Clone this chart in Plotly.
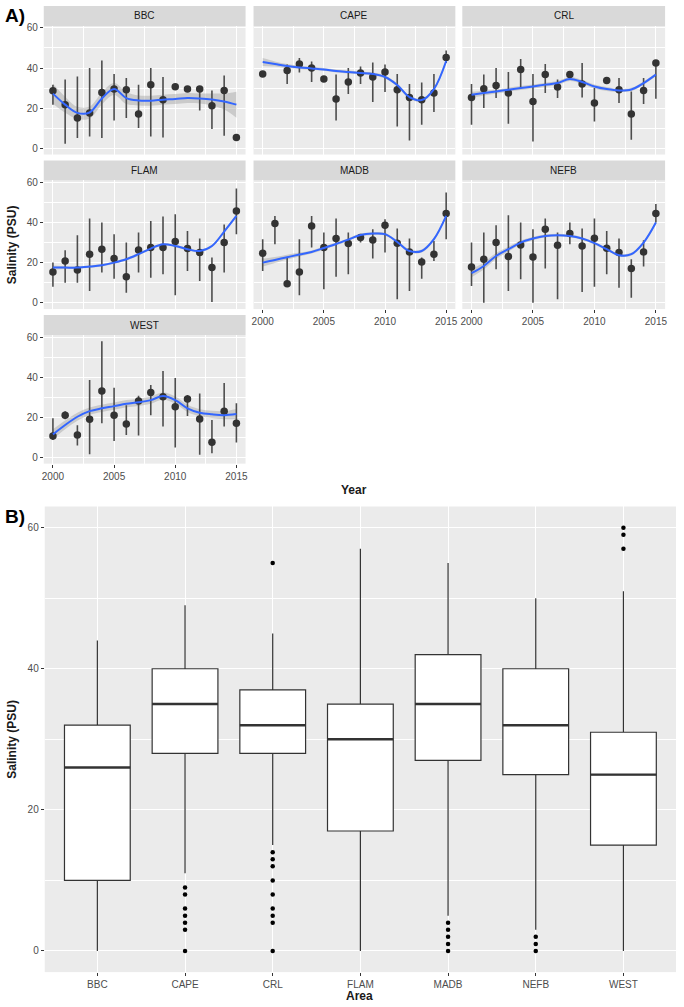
import plotly.graph_objects as go

# ---------------- DATA ----------------
years = list(range(2000, 2016))
areas = ["BBC", "CAPE", "CRL", "FLAM", "MADB", "NEFB", "WEST"]

bbc_mean = [28.7, 21.7, 15.0, 17.5, 27.8, 29.5, 29.2, 17.0, 31.7, 24.2, 30.7, 29.5, 29.5, 21.2, 28.8, 5.3]
bbc_lo = [21.7, 2.2, 5.0, 5.8, 5.0, 13.8, 15.0, 10.0, 5.8, 5.3, 30.2, 29.0, 18.8, 9.5, 6.2, 5.3]
bbc_hi = [31.7, 34.2, 35.8, 40.0, 43.8, 37.0, 35.0, 31.7, 40.0, 35.5, 31.2, 30.0, 30.8, 28.8, 36.2, 5.3]
bbc_fit = [27.2, 21.7, 17.6, 17.8, 24.8, 29.5, 25.0, 23.8, 23.7, 24.2, 24.5, 25.0, 24.8, 24.3, 23.3, 21.7]
bbc_se = [5.0, 4.0, 3.0, 3.0, 3.0, 3.0, 3.0, 2.5, 2.5, 2.5, 2.5, 2.5, 2.5, 3.0, 4.0, 6.5]

cape_mean = [37.0, None, 38.7, 42.0, 40.0, 34.5, 24.5, 33.0, 37.5, 35.5, 38.0, 29.2, 25.3, 24.2, 27.5, 45.3]
cape_lo = [37.0, None, 32.0, 37.8, 33.0, 34.5, 13.8, 27.0, 32.0, 23.0, 28.0, 10.8, 3.8, 11.7, 18.0, 42.5]
cape_hi = [37.0, None, 41.7, 45.0, 43.3, 34.5, 36.7, 40.0, 40.8, 42.8, 41.7, 37.0, 32.0, 32.8, 37.0, 48.7]
cape_fit = [43.0, 42.0, 41.0, 40.3, 39.8, 39.3, 38.5, 38.0, 37.5, 37.0, 35.5, 31.5, 25.5, 24.0, 29.5, 43.5]
cape_se = [2.0, 1.3, 1.0, 0.8, 0.7, 0.7, 0.7, 0.7, 0.7, 0.7, 0.7, 0.8, 0.8, 0.8, 0.8, 1.0]

crl_mean = [25.3, 29.7, 31.3, 27.5, 39.2, 23.3, 36.7, 30.5, 36.7, 32.0, 22.5, 33.7, 29.2, 17.0, 28.8, 42.5]
crl_lo = [11.7, 20.0, 25.0, 12.2, 30.0, 3.3, 27.5, 25.0, 35.0, 25.3, 13.3, 33.2, 22.5, 4.2, 22.0, 24.7]
crl_hi = [32.0, 36.7, 40.0, 38.0, 44.5, 37.0, 42.0, 34.2, 38.3, 42.5, 30.0, 34.2, 35.0, 28.3, 35.0, 42.5]
crl_fit = [26.7, 27.5, 28.3, 29.2, 30.0, 30.8, 31.7, 32.5, 34.5, 33.0, 30.8, 29.5, 28.8, 29.3, 32.5, 36.7]
crl_se = [1.5, 1.2, 1.0, 1.0, 1.0, 1.0, 1.0, 1.0, 1.0, 1.0, 1.0, 1.0, 0.8, 0.8, 0.8, 0.8]

flam_mean = [15.3, 20.8, 16.3, 24.2, 26.7, 22.0, 13.0, 26.3, 27.5, 27.5, 30.5, 27.0, 25.0, 17.5, 30.0, 45.8]
flam_lo = [8.0, 10.0, 10.0, 5.8, 15.0, 12.0, 5.0, 15.0, 12.5, 14.2, 3.7, 15.8, 10.8, 0.3, 15.0, 34.2]
flam_hi = [20.0, 26.2, 33.7, 42.0, 40.0, 34.2, 30.0, 35.0, 40.8, 43.0, 44.2, 35.8, 32.0, 22.5, 39.0, 57.0]
flam_fit = [17.5, 17.5, 17.5, 18.0, 18.7, 20.0, 21.7, 24.2, 27.0, 29.2, 28.3, 26.7, 25.8, 28.3, 35.5, 43.3]
flam_se = [1.0, 0.7, 0.6, 0.6, 0.6, 0.6, 0.6, 0.6, 0.6, 0.6, 0.6, 0.6, 0.6, 0.6, 0.6, 0.8]

madb_mean = [24.7, 39.5, 9.5, 15.3, 38.3, 27.5, 32.0, 29.5, 32.5, 31.3, 38.7, 29.7, 25.3, 20.3, 24.2, 44.5]
madb_lo = [15.8, 29.2, 9.5, 3.7, 27.5, 6.7, 13.0, 14.2, 30.0, 22.0, 25.0, 1.7, 5.8, 12.0, 20.8, 31.7]
madb_hi = [31.7, 43.3, 22.5, 31.7, 43.3, 35.0, 42.0, 35.0, 34.2, 36.7, 41.7, 37.0, 32.0, 22.5, 30.8, 55.0]
madb_fit = [20.0, 21.3, 22.7, 24.0, 25.3, 27.3, 29.3, 31.5, 33.8, 34.5, 34.2, 30.3, 25.8, 25.8, 31.7, 43.3]
madb_se = [2.0, 1.5, 1.2, 1.0, 0.8, 0.7, 0.7, 0.7, 0.7, 0.7, 0.7, 0.7, 0.8, 0.8, 0.8, 1.0]

nefb_mean = [17.8, 21.7, 30.0, 23.0, 28.8, 22.8, 36.7, 28.7, 34.5, 28.3, 32.2, 27.2, 25.0, 17.0, 25.3, 44.5]
nefb_lo = [8.3, 0.0, 16.7, 5.8, 11.7, 0.0, 17.0, 1.7, 29.2, 5.3, 8.0, 14.2, 7.5, 2.5, 18.0, 40.0]
nefb_hi = [30.0, 35.0, 38.7, 43.7, 40.0, 36.7, 42.0, 35.0, 40.0, 37.0, 42.0, 35.8, 32.0, 21.7, 31.2, 49.2]
nefb_fit = [14.7, 18.3, 23.3, 26.7, 30.0, 32.0, 33.3, 33.7, 33.3, 32.0, 29.7, 26.7, 23.7, 24.2, 30.0, 40.0]
nefb_se = [2.0, 1.8, 1.5, 1.2, 1.0, 0.8, 0.7, 0.7, 0.7, 0.7, 0.7, 0.7, 0.7, 0.7, 0.7, 0.8]

west_mean = [10.6, 21.0, 11.1, 18.9, 33.0, 21.0, 16.6, 28.0, 32.3, 30.2, 25.2, 29.0, 19.1, 7.5, 23.0, 17.0]
west_lo = [8.6, 19.0, 5.8, 1.5, 16.9, 8.1, 11.1, 10.8, 21.0, 15.3, 4.8, 20.6, 1.2, 2.0, 15.3, 7.3]
west_hi = [19.4, 23.0, 16.0, 38.5, 57.9, 34.7, 26.0, 30.7, 36.0, 43.0, 39.6, 31.0, 31.8, 18.6, 37.1, 26.9]
west_fit = [11.4, 16.1, 20.2, 23.0, 24.4, 25.5, 26.7, 27.4, 28.5, 30.5, 28.5, 24.4, 22.2, 21.4, 21.0, 21.6]
west_se = [2.5, 2.2, 2.0, 1.8, 1.8, 1.8, 1.8, 1.8, 1.8, 1.8, 1.8, 1.8, 1.8, 1.8, 2.0, 2.5]

# Panel B box statistics
box_lowerfence = [0, 11, 15, 0, 5, 3, 0]
box_q1 = [10, 28, 28, 17, 27, 25, 15]
box_median = [26, 35, 32, 30, 35, 32, 25]
box_q3 = [32, 40, 37, 35, 42, 40, 31]
box_upperfence = [44, 49, 45, 57, 55, 50, 51]
out_bbc = []
out_cape = [9, 8, 6, 5, 4, 3, 0]
out_crl = [55, 14, 13, 12, 10, 8, 6, 5, 4, 0]
out_flam = []
out_madb = [4, 3, 2, 1, 0]
out_nefb = [2, 1, 0]
out_west = [60, 59, 57]

# ---------------- LAYOUT HELPERS ----------------
W, H = 684, 1007
def fx(p): return p / W
def fy(p): return 1 - p / H

col_px = [(42, 245), (253, 456), (463, 667)]
row_px = [(23, 152), (178, 307), (333, 462)]
STRIP = 20

facets = [
    ("BBC", 0, 0, bbc_mean, bbc_lo, bbc_hi, bbc_fit, bbc_se),
    ("CAPE", 0, 1, cape_mean, cape_lo, cape_hi, cape_fit, cape_se),
    ("CRL", 0, 2, crl_mean, crl_lo, crl_hi, crl_fit, crl_se),
    ("FLAM", 1, 0, flam_mean, flam_lo, flam_hi, flam_fit, flam_se),
    ("MADB", 1, 1, madb_mean, madb_lo, madb_hi, madb_fit, madb_se),
    ("NEFB", 1, 2, nefb_mean, nefb_lo, nefb_hi, nefb_fit, nefb_se),
    ("WEST", 2, 0, west_mean, west_lo, west_hi, west_fit, west_se),
]
bottom_of_col = {0: "WEST", 1: "MADB", 2: "NEFB"}

FONT = "Liberation Sans, Arial, sans-serif"
TICKFONT = dict(family=FONT, size=10, color="#4D4D4D")
GRID = "white"

fig = go.Figure()
layout = dict(
    width=W, height=H,
    margin=dict(l=0, r=0, t=0, b=0),
    paper_bgcolor="white", plot_bgcolor="#EBEBEB",
    showlegend=False,
    shapes=[], annotations=[],
)

for k, (name, r, c, mean, lo, hi, fit, se) in enumerate(facets):
    n = k + 1
    xa, ya = f"x{n}", f"y{n}"
    xl, yl = f"xaxis{n}", f"yaxis{n}"
    x0, x1 = col_px[c]
    y0, y1 = row_px[r]
    show_x = bottom_of_col[c] == name
    show_y = c == 0
    layout[xl] = dict(
        domain=[fx(x0), fx(x1)], anchor=ya, range=[1999.25, 2015.75],
        tickmode="linear", tick0=2000, dtick=5,
        showgrid=True, gridcolor=GRID, gridwidth=1.1, zeroline=False,
        minor=dict(tickmode="linear", tick0=2000, dtick=2.5, showgrid=True, gridcolor=GRID, gridwidth=0.5),
        showticklabels=show_x, ticks="outside" if show_x else "", ticklen=3, tickcolor="#333333",
        tickfont=TICKFONT, showline=False,
    )
    layout[yl] = dict(
        domain=[fy(y1), fy(y0)], anchor=xa, range=[-3.2, 61],
        tickmode="linear", tick0=0, dtick=20,
        showgrid=True, gridcolor=GRID, gridwidth=1.1, zeroline=False,
        minor=dict(tickmode="linear", tick0=0, dtick=10, showgrid=True, gridcolor=GRID, gridwidth=0.5),
        showticklabels=show_y, ticks="outside" if show_y else "", ticklen=3, tickcolor="#333333",
        tickfont=TICKFONT, showline=False,
    )
    # strip
    layout["shapes"].append(dict(type="rect", xref="paper", yref="paper",
                                 x0=fx(x0), x1=fx(x1), y0=fy(y0), y1=fy(y0 - STRIP),
                                 fillcolor="#D9D9D9", line=dict(width=0), layer="below"))
    layout["annotations"].append(dict(xref="paper", yref="paper", x=fx((x0 + x1) / 2), y=fy(y0 - STRIP / 2),
                                      text=name, showarrow=False, xanchor="center", yanchor="middle",
                                      font=dict(family=FONT, size=10, color="#1A1A1A")))
    # ribbon
    lower = [f - s for f, s in zip(fit, se)]
    upper = [f + s for f, s in zip(fit, se)]
    fig.add_trace(go.Scatter(x=years, y=lower, mode="lines", line=dict(width=0, shape="spline"),
                             xaxis=xa, yaxis=ya, hoverinfo="skip"))
    fig.add_trace(go.Scatter(x=years, y=upper, mode="lines", line=dict(width=0, shape="spline"),
                             fill="tonexty", fillcolor="rgba(153,153,153,0.4)",
                             xaxis=xa, yaxis=ya, hoverinfo="skip"))
    # point ranges
    plus = [(h - m) if m is not None else 0 for m, h in zip(mean, hi)]
    minus = [(m - l) if m is not None else 0 for m, l in zip(mean, lo)]
    fig.add_trace(go.Scatter(
        x=years, y=mean, mode="markers",
        marker=dict(size=7.5, color="#333333"),
        error_y=dict(type="data", symmetric=False, array=plus, arrayminus=minus,
                     width=0, thickness=1.6, color="#4D4D4D"),
        xaxis=xa, yaxis=ya))
    # smooth
    fig.add_trace(go.Scatter(x=years, y=fit, mode="lines",
                             line=dict(color="#3366FF", width=2, shape="spline", smoothing=1.0),
                             xaxis=xa, yaxis=ya))

# ---------------- PANEL B ----------------
nB = len(facets) + 1
xaB, yaB = f"x{nB}", f"y{nB}"
xpos = list(range(len(areas)))
layout[f"xaxis{nB}"] = dict(
    domain=[fx(43), fx(678)], anchor=yaB, range=[-0.6, len(areas) - 0.4],
    tickmode="array", tickvals=xpos, ticktext=areas,
    showgrid=True, gridcolor=GRID, gridwidth=1.1, zeroline=False,
    ticks="outside", ticklen=3, tickcolor="#333333", tickfont=TICKFONT,
)
layout[f"yaxis{nB}"] = dict(
    domain=[fy(972), fy(505)], anchor=xaB, range=[-3, 63],
    tickmode="linear", tick0=0, dtick=20,
    showgrid=True, gridcolor=GRID, gridwidth=1.1, zeroline=False,
    minor=dict(tickmode="linear", tick0=0, dtick=10, showgrid=True, gridcolor=GRID, gridwidth=0.5),
    ticks="outside", ticklen=3, tickcolor="#333333", tickfont=TICKFONT,
)
BOXW = 0.75
fig.add_trace(go.Box(
    x=xpos, q1=box_q1, median=box_median, q3=box_q3,
    lowerfence=box_lowerfence, upperfence=box_upperfence,
    width=BOXW, whiskerwidth=0, fillcolor="white",
    line=dict(color="#333333", width=1.2), boxpoints=False,
    xaxis=xaB, yaxis=yaB, hoverinfo="skip"))
mx, my = [], []
for i, m in enumerate(box_median):
    mx += [i - BOXW / 2, i + BOXW / 2, None]
    my += [m, m, None]
fig.add_trace(go.Scatter(x=mx, y=my, mode="lines", line=dict(color="#333333", width=2.4),
                         xaxis=xaB, yaxis=yaB, hoverinfo="skip"))
outs = [out_bbc, out_cape, out_crl, out_flam, out_madb, out_nefb, out_west]
ox, oy = [], []
for i, o in enumerate(outs):
    ox += [i] * len(o)
    oy += o
fig.add_trace(go.Scatter(x=ox, y=oy, mode="markers", marker=dict(size=4.5, color="black"),
                         xaxis=xaB, yaxis=yaB))

# ---------------- TITLES ----------------
TITLEFONT = dict(family=FONT, size=12, color="#1A1A1A", weight="bold")
ann = layout["annotations"]
ann.append(dict(xref="paper", yref="paper", x=fx(1), y=fy(0), text="<b>A)</b>", showarrow=False,
                xanchor="left", yanchor="top", font=dict(family=FONT, size=19, color="black")))
ann.append(dict(xref="paper", yref="paper", x=fx(1), y=fy(502), text="<b>B)</b>", showarrow=False,
                xanchor="left", yanchor="top", font=dict(family=FONT, size=19, color="black")))
ann.append(dict(xref="paper", yref="paper", x=fx(354), y=fy(488), text="Year", showarrow=False,
                xanchor="center", yanchor="middle", font=TITLEFONT))
ann.append(dict(xref="paper", yref="paper", x=fx(360), y=fy(996), text="Area", showarrow=False,
                xanchor="center", yanchor="middle", font=TITLEFONT))
ann.append(dict(xref="paper", yref="paper", x=fx(10), y=fy(242), text="Salinity (PSU)", showarrow=False,
                textangle=-90, xanchor="center", yanchor="middle", font=TITLEFONT))
ann.append(dict(xref="paper", yref="paper", x=fx(10), y=fy(738), text="Salinity (PSU)", showarrow=False,
                textangle=-90, xanchor="center", yanchor="middle", font=TITLEFONT))

fig.update_layout(**layout)
fig.write_html("out.html", config={"displayModeBar": False},
               post_script="document.body.style.margin='0';document.body.style.padding='0';")
